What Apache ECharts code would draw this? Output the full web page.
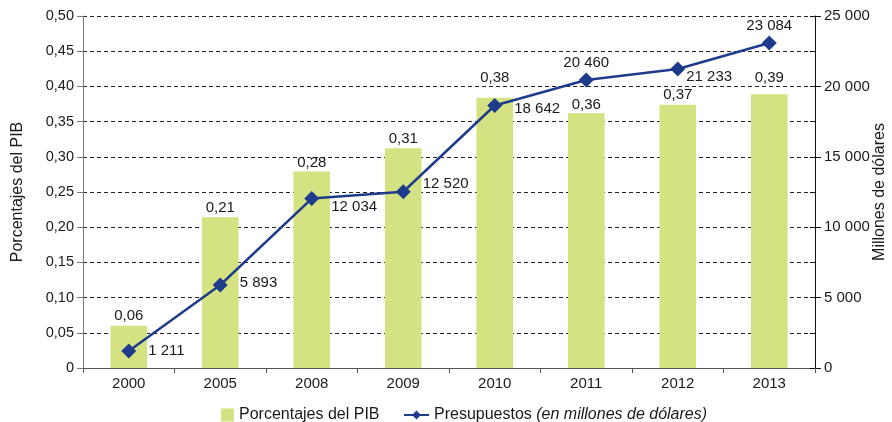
<!DOCTYPE html>
<html>
<head>
<meta charset="utf-8">
<script src="https://cdn.jsdelivr.net/npm/echarts@6/dist/echarts.min.js"></script>
<style>
  html, body { margin: 0; padding: 0; background: #fff; }
  #chart { width: 892px; height: 422px; }
</style>
</head>
<body>
<div id="chart"></div>
<script>
const years = ['2000', '2005', '2008', '2009', '2010', '2011', '2012', '2013']
// bar heights as drawn (labels show them rounded to 2 decimals)
const pibPct = [0.06, 0.214, 0.279, 0.312, 0.384, 0.362, 0.374, 0.389]
const budget = [1211, 5893, 12034, 12520, 18642, 20460, 21233, 23084]

// label placement tweaks, as in the original
const barLabelDist = [2, 2, 1, 2, 12, 1, 2, 9]
const budgetLabelPos = ['right', 'right', 'right', 'right', 'right', 'top', 'right', 'top']
const budgetLabelOffset = [[0, 0], [0, -2], [0, 8], [0, -8], [0, 3], [0, 0], [-11, 8], [0, 0]]

const fmtPct = v => v === 0 ? '0' : v.toFixed(2).replace('.', ',')
const fmtNum = v => String(v).replace(/\B(?=(\d{3})+(?!\d))/g, ' ')

const textColor = '#1a1a1a'
const barColor = '#d4e282'
const lineColor = '#1f3c8c'
const font = 'Liberation Sans, Arial, sans-serif'

const chart = echarts.init(document.getElementById('chart'))

chart.setOption({
  animation: false,
  textStyle: { fontFamily: font, color: textColor },
  grid: { left: 83, right: 77, top: 16, bottom: 54, outerBoundsMode: 'none', containLabel: false },
  legend: [
    {
      left: 216, top: 402,
      itemWidth: 13, itemHeight: 13, itemGap: 5,
      textStyle: { fontSize: 16, color: textColor },
      data: [{ name: 'Porcentajes del PIB', icon: 'rect', itemStyle: { color: barColor } }]
    },
    {
      left: 398, top: 402,
      itemWidth: 25, itemHeight: 11, itemGap: 5,
      textStyle: {
        fontSize: 16, color: textColor,
        rich: { it: { fontStyle: 'italic', fontSize: 16, color: textColor } }
      },
      formatter: () => 'Presupuestos {it|(en millones de dólares)}',
      data: ['Presupuestos']
    }
  ],
  xAxis: {
    type: 'category',
    data: years,
    axisLine: { lineStyle: { color: '#555' } },
    axisTick: { show: true, length: 5, lineStyle: { color: '#555' } },
    axisLabel: { fontSize: 15, color: textColor, margin: 8 }
  },
  yAxis: [
    {
      type: 'value',
      min: 0, max: 0.5, interval: 0.05,
      name: 'Porcentajes del PIB',
      nameLocation: 'middle',
      nameGap: 57,
      nameMoveOverlap: false,
      nameTextStyle: { fontSize: 16, color: textColor },
      axisLine: { show: true, lineStyle: { color: '#7a7a7a' } },
      axisTick: { show: true, length: 6, lineStyle: { color: '#7a7a7a' } },
      axisLabel: { fontSize: 14.5, color: textColor, margin: 9, formatter: fmtPct },
      splitLine: { show: true, lineStyle: { color: '#222', type: [4, 3], width: 1 } }
    },
    {
      type: 'value',
      min: 0, max: 25000, interval: 5000,
      name: 'Millones de dólares',
      nameLocation: 'middle',
      nameGap: 57,
      nameMoveOverlap: false,
      nameRotate: 90,
      nameTextStyle: { fontSize: 16, color: textColor },
      position: 'right',
      axisLine: { show: true, lineStyle: { color: '#111' } },
      axisTick: { show: true, length: 6, lineStyle: { color: '#111' } },
      axisLabel: { fontSize: 15, color: textColor, margin: 9, formatter: fmtNum },
      splitLine: { show: false }
    },
    {
      // inner ticks every 2 500 on the right axis
      type: 'value',
      min: 0, max: 25000, interval: 2500,
      position: 'right',
      axisLine: { show: false },
      axisTick: { show: true, inside: true, length: 5, lineStyle: { color: '#111' } },
      axisLabel: { show: false },
      splitLine: { show: false }
    }
  ],
  series: [
    {
      name: 'Porcentajes del PIB',
      type: 'bar',
      data: pibPct.map((v, i) => ({ value: v, label: { distance: barLabelDist[i] } })),
      barWidth: '40%',
      itemStyle: { color: barColor },
      label: { show: true, position: 'top', fontSize: 15, color: textColor, formatter: p => fmtPct(p.value) },
      z: 2
    },
    {
      name: 'Presupuestos',
      type: 'line',
      yAxisIndex: 1,
      data: budget.map((v, i) => ({
        value: v,
        label: {
          position: budgetLabelPos[i],
          offset: budgetLabelOffset[i],
          distance: budgetLabelPos[i] === 'top' ? 2 : 12
        }
      })),
      symbol: 'diamond',
      symbolSize: 15,
      lineStyle: { color: lineColor, width: 2.5 },
      itemStyle: { color: lineColor },
      label: { show: true, fontSize: 15, color: textColor, formatter: p => fmtNum(p.value) },
      z: 3
    }
  ]
})
</script>
</body>
</html>
